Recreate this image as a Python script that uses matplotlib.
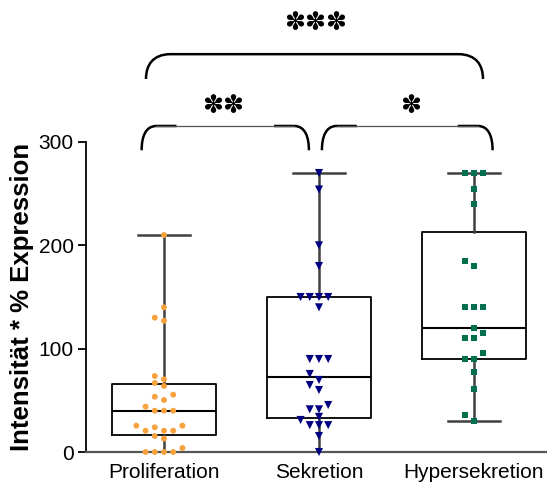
import numpy as np
import matplotlib
matplotlib.use("Agg")
import matplotlib.pyplot as plt
from matplotlib.path import Path
from matplotlib.patches import PathPatch

plt.rcParams['font.family'] = ['Liberation Sans', 'DejaVu Sans']

groups = ["Proliferation", "Sekretion", "Hypersekretion"]

proliferation = [210, 140, 130, 127, 73.5, 70.3, 66.8, 63.9, 55.5, 53.5, 50.3,
                 43.9, 40, 40, 40, 25.5, 25.5, 23.9, 20.6, 20.6, 20.6, 15.5,
                 12.9, 3.9, 0, 0, 0, 0]
sekretion = [270, 254, 200, 180, 150, 150, 150, 150, 140, 90, 90, 90, 75.5,
             69.7, 64.8, 60, 45.5, 41.3, 41.3, 34, 31, 26, 26, 26, 15.5, 0]
hypersekretion = [270, 270, 270, 254.5, 240, 185.2, 180, 140, 140, 140, 120.3,
                  115.2, 110, 110, 95.5, 90, 90, 77.1, 60.6, 35.5, 30]

data = [proliferation, sekretion, hypersekretion]
colors = ["#F8A23E", "#000080", "#00704F"]
markers = ["o", "v", "s"]
msizes = [18, 34, 20]


def box_stats(vals):
    v = np.asarray(vals, float)
    q1, med, q3 = np.percentile(v, [25, 50, 75], method='weibull')
    return dict(med=med, q1=q1, q3=q3, whislo=v.min(), whishi=v.max(), fliers=[])


def swarm(vals, step, min_dy):
    # put points into columns so that close values do not overlap
    order = [0, -1, 1, -2, 2, -3, 3]
    placed = []
    offs = np.zeros(len(vals))
    for i in np.argsort(vals):
        v = vals[i]
        for c in order:
            if all(abs(v - pv) >= min_dy for pc, pv in placed if pc == c):
                placed.append((c, v))
                offs[i] = c * step
                break
    return offs


def bracket(ax, x0, x1, ytop, ybot, rx, ry, lw=1.8, split=None):
    L = [(x0, ybot), (x0, ytop - ry * 0.45), (x0 + rx * 0.25, ytop), (x0 + rx, ytop)]
    R = [(x1 - rx, ytop), (x1 - rx * 0.25, ytop), (x1, ytop - ry * 0.45), (x1, ybot)]
    curve = [Path.CURVE4] * 3
    if split is None:
        p = Path(L + R, [Path.MOVETO] + curve + [Path.LINETO] + curve)
        ax.add_patch(PathPatch(p, fill=False, lw=lw, ec='black', clip_on=False))
        return
    # thick rounded ends, thinner line across the middle
    left = Path(L + [(x0 + rx + split, ytop)], [Path.MOVETO] + curve + [Path.LINETO])
    right = Path([(x1 - rx - split, ytop)] + R, [Path.MOVETO, Path.LINETO] + curve)
    for p in (left, right):
        ax.add_patch(PathPatch(p, fill=False, lw=lw, ec='black', clip_on=False,
                               capstyle='butt'))
    ax.plot([x0 + rx, x1 - rx], [ytop, ytop], color='#555555', lw=0.9, clip_on=False)


fig = plt.figure(figsize=(5.47, 4.84), dpi=100)
ax = fig.add_axes([86 / 547, 32 / 484, 461 / 547, 310 / 484])

pos = [1, 2, 3]
stats = [box_stats(d) for d in data]
ax.bxp(stats, positions=pos, widths=0.67, capwidths=0.335, showfliers=False,
       boxprops=dict(color='black', lw=1.3),
       medianprops=dict(color='black', lw=1.5),
       whiskerprops=dict(color='#404040', lw=1.8),
       capprops=dict(color='#404040', lw=1.8), manage_ticks=False)

for p, d, c, m, s in zip(pos, data, colors, markers, msizes):
    d = np.asarray(d, float)
    xs = p + swarm(d, 0.0594, 6.0)
    ax.scatter(xs, d, s=s, marker=m, color=c, edgecolors='none', zorder=3, clip_on=False)

ax.set_xlim(0.497, 3.471)
ax.set_ylim(0, 300)
ax.set_yticks([0, 100, 200, 300])
ax.set_xticks(pos)
ax.set_xticklabels(groups, fontsize=15)
ax.tick_params(axis='x', length=0, pad=8)
ax.tick_params(axis='y', length=6, width=1.3, pad=3, labelsize=15)
ax.spines['top'].set_visible(False)
ax.spines['right'].set_visible(False)
ax.spines['left'].set_linewidth(1.3)
ax.spines['bottom'].set_color('#555555')
ax.spines['bottom'].set_linewidth(1.6)
ax.set_ylabel("Intensität * % Expression", fontsize=18.5, fontweight='bold')
ax.yaxis.set_label_coords(-0.113, 0.5)

# brackets above the boxes
bracket(ax, 0.856, 1.935, 315.5, 292, 0.095, 24, split=0.13)
bracket(ax, 2.019, 3.12, 315.5, 292, 0.095, 24, split=0.13)
bracket(ax, 0.884, 3.058, 385, 361, 0.16, 25)

star_kw = dict(ha='center', va='center', fontsize=18, family='DejaVu Sans')
ax.text(1.38, 335, "\u273D\u273D", **star_kw)
ax.text(2.59, 335, "\u273D", **star_kw)
ax.text(1.975, 415, "\u273D\u273D\u273D", **star_kw)

fig.savefig("out.png", dpi=100)
